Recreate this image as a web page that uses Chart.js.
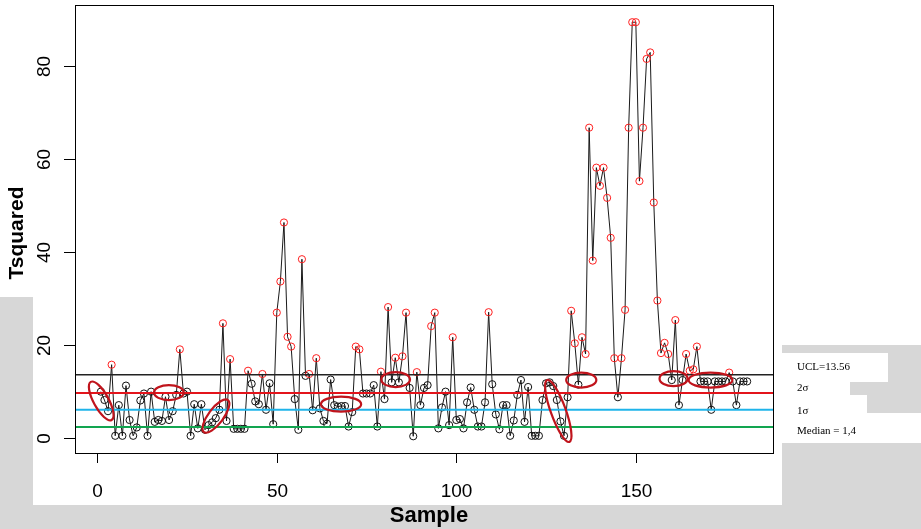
<!DOCTYPE html>
<html>
<head>
<meta charset="utf-8">
<script src="https://cdn.jsdelivr.net/npm/chart.js@4.4.0/dist/chart.umd.min.js"></script>
<style>
  html, body { margin: 0; padding: 0; background: #fff; }
  canvas { display: block; }
</style>
</head>
<body>
<canvas id="tchart" width="921" height="529"></canvas>
<script>
// T-squared statistic per sample (sample 1..n)
const tsquared = [
  9.9, 8.1, 5.7, 15.7, 0.4, 7.0, 0.4, 11.2, 3.8, 0.4,
  2.2, 8.0, 9.5, 0.4, 9.9, 3.4, 3.8, 3.6, 8.8, 3.8,
  5.7, 9.2, 19.0, 9.5, 9.9, 0.4, 7.2, 2.0, 7.2, 1.7,
  2.7, 3.3, 4.2, 6.0, 24.6, 3.6, 16.9, 1.9, 1.9, 1.9,
  1.9, 14.4, 11.6, 7.8, 7.2, 13.7, 6.0, 11.7, 2.9, 26.9,
  33.6, 46.3, 21.7, 19.6, 8.3, 1.7, 38.4, 13.3, 13.7, 5.9,
  17.1, 6.3, 3.6, 3.0, 12.5, 7.0, 6.7, 6.8, 6.8, 2.4,
  5.5, 19.6, 19.0, 9.5, 9.5, 9.5, 11.3, 2.4, 14.2, 8.3,
  28.1, 11.9, 17.2, 11.9, 17.5, 26.9, 10.7, 0.3, 14.1, 7.0,
  10.7, 11.3, 24.0, 26.9, 2.0, 6.5, 9.9, 2.7, 21.6, 3.8,
  4.0, 2.0, 7.6, 10.8, 6.0, 2.4, 2.4, 7.6, 27.0, 11.5,
  5.0, 1.8, 7.0, 7.0, 0.4, 3.7, 9.2, 12.4, 3.4, 10.9,
  0.4, 0.4, 0.4, 8.1, 11.7, 11.9, 11.1, 8.1, 3.5, 0.4,
  8.7, 27.3, 20.3, 11.4, 21.6, 18.0, 66.7, 38.1, 58.1, 54.2,
  58.1, 51.6, 43.0, 17.1, 8.7, 17.1, 27.5, 66.7, 89.4, 89.4,
  55.2, 66.7, 81.5, 82.9, 50.6, 29.5, 18.2, 20.4, 18.0, 12.4,
  25.3, 7.0, 12.4, 18.0, 14.4, 14.7, 19.6, 12.1, 12.1, 12.1,
  6.0, 12.1, 12.1, 12.1, 12.1, 14.0, 12.1, 7.0, 12.1, 12.1, 12.1
];
const samples = tsquared.map((_, i) => i + 1);

const xTicks = [0, 50, 100, 150];
const yTicks = [0, 20, 40, 60, 80];

// control limits
const ucl = 13.56;
const sigma2 = 9.6;
const sigma1 = 6.0;
const median = 2.3;
const limitLabels = ['UCL=13.56', '2\u03c3', '1\u03c3', 'Median = 1,4'];

// hand-drawn rings: long-axis ends as [sample1, value1, sample2, value2]
const rings = [
  [-1.8, 12.0, 4.0, 3.8],
  [15.8, 9.7, 24.1, 9.7],
  [29.7, 1.2, 36.4, 8.1],
  [62.3, 7.2, 73.5, 7.2],
  [79.1, 12.5, 87.1, 12.5],
  [125.3, 12.4, 131.5, -0.9],
  [130.6, 12.4, 139.0, 12.4],
  [156.6, 12.7, 164.4, 12.7],
  [164.7, 12.4, 176.9, 12.4]
];

const X_MIN = -6.2, X_MAX = 188.2;
const Y_MIN = -3.3, Y_MAX = 93.1;

const points = samples.map((s, i) => ({x: s, y: tsquared[i]}));
const hline = (v) => [{x: X_MIN, y: v}, {x: X_MAX, y: v}];

const rStyle = {
  id: 'rStyle',
  beforeDraw(chart) {
    const ctx = chart.ctx;
    ctx.save();
    ctx.fillStyle = '#ffffff';
    ctx.fillRect(0, 0, 921, 529);
    // scanned page surroundings
    ctx.fillStyle = '#d7d7d7';
    ctx.fillRect(0, 505, 921, 24);
    ctx.fillRect(0, 297, 33, 208);
    ctx.fillRect(782, 345, 139, 160);
    ctx.fillStyle = '#ffffff';
    ctx.fillRect(782, 353, 106, 29);
    ctx.fillRect(782, 382, 68, 13);
    ctx.fillRect(782, 395, 85, 18);
    ctx.fillRect(782, 413, 139, 30);
    ctx.restore();
  },
  afterDraw(chart) {
    const ctx = chart.ctx;
    const a = chart.chartArea;
    const xs = chart.scales.x, ys = chart.scales.y;
    ctx.save();

    // box
    ctx.strokeStyle = '#000';
    ctx.lineWidth = 1;
    ctx.strokeRect(a.left + 0.5, a.top + 0.5, a.right - a.left, a.bottom - a.top);

    // x axis
    ctx.fillStyle = '#000';
    ctx.font = '19px "Liberation Sans", Arial, sans-serif';
    ctx.textAlign = 'center';
    ctx.textBaseline = 'middle';
    xTicks.forEach(t => {
      const px = Math.round(xs.getPixelForValue(t)) + 0.5;
      ctx.beginPath();
      ctx.moveTo(px, a.bottom);
      ctx.lineTo(px, a.bottom + 10);
      ctx.stroke();
      ctx.fillText(String(t), px, 492);
    });

    // y axis, labels turned like R's default
    yTicks.forEach(t => {
      const py = Math.round(ys.getPixelForValue(t)) + 0.5;
      ctx.beginPath();
      ctx.moveTo(a.left, py);
      ctx.lineTo(a.left - 11, py);
      ctx.stroke();
      ctx.save();
      ctx.translate(45, py);
      ctx.rotate(-Math.PI / 2);
      ctx.fillText(String(t), 0, 0);
      ctx.restore();
    });

    // titles
    ctx.font = 'bold 22px "Liberation Sans", Arial, sans-serif';
    ctx.fillText('Sample', (a.left + a.right) / 2 + 5, 516);
    ctx.save();
    ctx.translate(17, 233);
    ctx.rotate(-Math.PI / 2);
    ctx.font = 'bold 21px "Liberation Sans", Arial, sans-serif';
    ctx.fillText('Tsquared', 0, 0);
    ctx.restore();

    // rings
    ctx.strokeStyle = '#c0141c';
    ctx.lineWidth = 2.2;
    rings.forEach(r => {
      const x1 = xs.getPixelForValue(r[0]), y1 = ys.getPixelForValue(r[1]);
      const x2 = xs.getPixelForValue(r[2]), y2 = ys.getPixelForValue(r[3]);
      const cx = (x1 + x2) / 2, cy = (y1 + y2) / 2;
      const half = Math.hypot(x2 - x1, y2 - y1) / 2;
      ctx.beginPath();
      ctx.ellipse(cx, cy, half, 7.5, Math.atan2(y2 - y1, x2 - x1), 0, Math.PI * 2);
      ctx.stroke();
    });

    // limit captions
    ctx.fillStyle = '#000';
    ctx.font = '11px "Liberation Serif", "Times New Roman", serif';
    ctx.textAlign = 'left';
    const capY = [367, 388, 411, 431];
    limitLabels.forEach((t, i) => ctx.fillText(t, 797, capY[i]));

    ctx.restore();
  }
};

new Chart(document.getElementById('tchart'), {
  type: 'line',
  data: {
    datasets: [
      {data: hline(ucl), borderColor: '#222', borderWidth: 1.5, pointRadius: 0, order: 0},
      {data: hline(sigma2), borderColor: '#e3141b', borderWidth: 2, pointRadius: 0, order: 0},
      {data: hline(sigma1), borderColor: '#1fb4ea', borderWidth: 2, pointRadius: 0, order: 0},
      {data: hline(median), borderColor: '#12a550', borderWidth: 2, pointRadius: 0, order: 0},
      {
        data: points,
        borderColor: '#1a1a1a',
        borderWidth: 1,
        tension: 0,
        pointRadius: 3.6,
        pointBorderWidth: 1,
        pointBackgroundColor: 'rgba(0,0,0,0)',
        pointBorderColor: (c) => (c.raw && c.raw.y > ucl ? '#ff2020' : '#111'),
        order: 1
      }
    ]
  },
  options: {
    responsive: false,
    animation: false,
    devicePixelRatio: 1,
    layout: {padding: {left: 75, top: 5, right: 148, bottom: 76}},
    plugins: {legend: {display: false}, tooltip: {enabled: false}},
    scales: {
      x: {type: 'linear', min: X_MIN, max: X_MAX, display: false},
      y: {type: 'linear', min: Y_MIN, max: Y_MAX, display: false}
    }
  },
  plugins: [rStyle]
});
</script>
</body>
</html>
